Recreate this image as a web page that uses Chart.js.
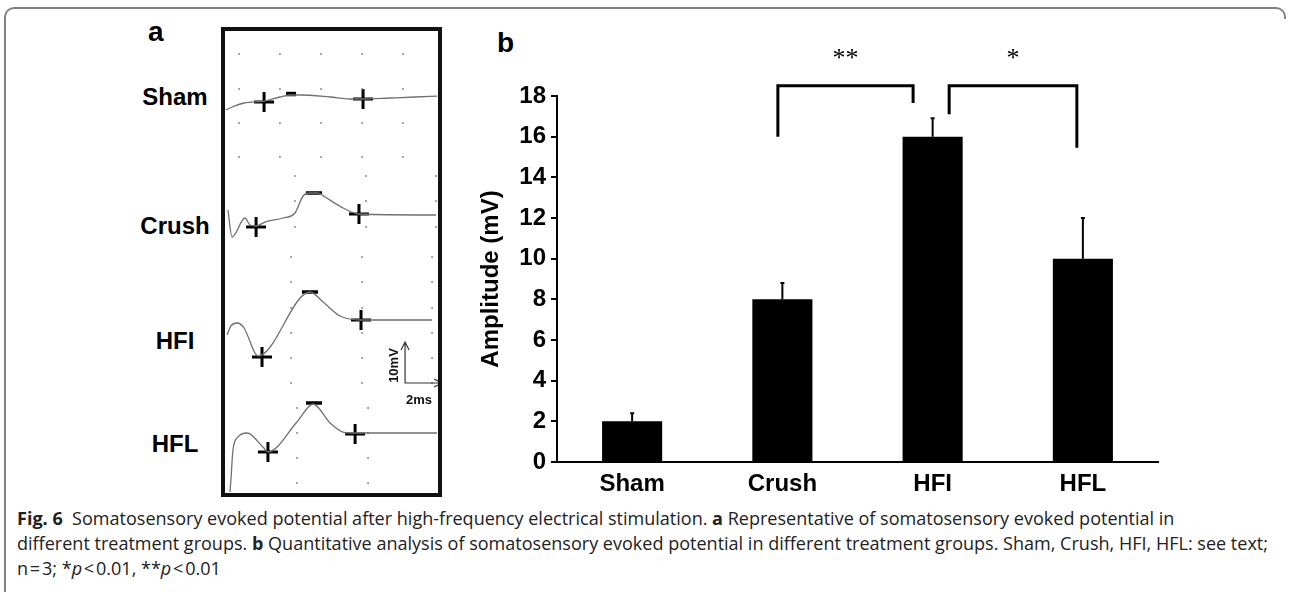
<!DOCTYPE html>
<html>
<head>
<meta charset="utf-8">
<script src="https://cdn.jsdelivr.net/npm/chart.js@4.4.1/dist/chart.umd.min.js"></script>
<style>
  body { margin: 0; background: #fff; width: 1290px; height: 592px; overflow: hidden; position: relative; font-family: "Liberation Sans", Arial, sans-serif; color: #000; }
  .frame { position: absolute; left: 4px; top: 7px; width: 1270px; height: 640px; border-top: 2px solid #808080; border-left: 2px solid #808080; border-top-left-radius: 10px; }
  .corner { position: absolute; left: 1272px; top: 7px; width: 12px; height: 10px; border-top: 2px solid #808080; border-right: 2px solid #808080; border-top-right-radius: 10px; }
  .panel { position: absolute; font-weight: bold; font-size: 28px; line-height: 28px; }
  .trace-label { position: absolute; left: 125px; width: 100px; text-align: center; font-weight: bold; font-size: 24px; line-height: 24px; }
  .box { position: absolute; left: 221px; top: 27px; width: 213px; height: 462px; border: 4px solid #111; }
  #traces { position: absolute; left: 225px; top: 31px; }
  #bars { position: absolute; left: 470px; top: 20px; }
  .cap { position: absolute; left: 17px; white-space: nowrap; font-family: "Open Sans", "Noto Sans", sans-serif; font-size: 17.5px; line-height: 24px; color: #222; transform-origin: 0 0; }
</style>
</head>
<body>
<div class="frame"></div>
<div class="corner"></div>

<div class="panel" style="left:148px; top:18px;">a</div>
<div class="panel" style="left:497px; top:29px;">b</div>

<div class="trace-label" style="top:85px;">Sham</div>
<div class="trace-label" style="top:214px;">Crush</div>
<div class="trace-label" style="top:329px;">HFI</div>
<div class="trace-label" style="top:432px;">HFL</div>

<canvas id="traces" width="213" height="466"></canvas>
<div class="box"></div>
<canvas id="bars" width="720" height="480"></canvas>

<div class="cap" style="top:506px;"><b>Fig. 6</b>&nbsp; Somatosensory evoked potential after high-frequency electrical stimulation. <b>a</b> Representative of somatosensory evoked potential in</div>
<div class="cap" id="capRef" style="top:531px;">different treatment groups. <b>b</b> Quantitative analysis of somatosensory evoked potential in different treatment groups. Sham, Crush, HFI, HFL: see text;</div>
<div class="cap" style="top:556px;">n&#8202;=&#8202;3; *<i>p</i>&#8202;&lt;&#8202;0.01, **<i>p</i>&#8202;&lt;&#8202;0.01</div>

<script>
// ---- panel a: evoked potential traces (time in ms, amplitude in mV relative to baseline)
const shamTime = [0.05, 0.38, 1.03, 2.11, 2.97, 3.57, 4.05, 5.68, 6.76, 7.46, 8.92, 10.27, 11.46];
const shamAmp  = [-3.17, -2.44, -1.46, -0.98, 0, 0.49, 0.49, 0, -0.49, -0.49, -0.24, 0, 0.24];
const crushTime = [0.16, 0.38, 1.08, 1.35, 1.68, 2.16, 3.14, 3.78, 4.22, 4.59, 5.03, 5.41, 6.38, 7.24, 11.41];
const crushAmp  = [1.22, -5.37, -0.73, -2.44, -2.68, -1.71, -0.73, 0.49, 4.63, 5.37, 5.37, 4.39, 1.71, 0.24, 0];
const hfiTime = [0.11, 0.32, 0.65, 1.03, 1.62, 1.78, 4.59, 5.30, 6.22, 7.35, 11.19];
const hfiAmp  = [-3.66, -1.46, -0.73, -1.95, -8.05, -8.78, 6.83, 4.39, 0.98, 0, 0];
const hflTime = [0.27, 0.32, 0.43, 0.70, 1.19, 2.05, 2.32, 3.89, 4.76, 5.68, 6.38, 7.03, 11.46];
const hflAmp  = [-14.39, -11.46, -4.15, -0.98, 0, -3.41, -4.63, 2.68, 7.07, 2.44, 0.24, 0, 0];

// + / - peak markers for each trace
const plusTime  = [[2.11, 7.46], [1.68, 7.24], [2.00, 7.35], [2.32, 7.03]];
const plusAmp   = [[-1.22, -0.49], [-2.93, 0.24], [-9.02, 0], [-4.63, -0.24]];
const minusTime = [3.57, 4.81, 4.59, 4.81];
const minusAmp  = [0.73, 5.37, 6.83, 7.32];

// dotted reference grid around each trace
const dotTime = [[0.76, 2.97, 5.19, 7.41, 9.62], [3.78, 7.62, 11.41], [3.57, 7.41, 11.19], [3.89, 7.73]];
const dotAmp  = [[10.49, 1.95, -6.34, -14.63], [9.51, 3.41, -2.93], [15.37, 9.27, 2.93, -3.17, -9.27, -15.37], [6.10, 0, -6.10, -12.20]];

// ---- panel b: bar chart
const groups = ['Sham', 'Crush', 'HFI', 'HFL'];
const amplitude = [2, 8, 16, 10];
const amplitudeErr = [0.4, 0.8, 0.9, 2.0];
const yTicks = [0, 2, 4, 6, 8, 10, 12, 14, 16, 18];
const sigPairs = [[1, 2], [2, 3]];
const sigLabels = ['**', '*'];
const sigLegs = [[16.0, 17.65], [17.1, 15.45]];
const sigTop = [18.5, 18.5];

// stacking of the traces in panel a and the scale bar position (layout only)
const traceOffset = [97.56, 68.78, 43.17, 15.61];
const scaleBarAt = [9.73, 27.8];

const traceSets = [[shamTime, shamAmp], [crushTime, crushAmp], [hfiTime, hfiAmp], [hflTime, hflAmp]];

const traceData = traceSets.map(function(s, k) {
  return {
    data: s[0].map(function(t, i) { return { x: t, y: s[1][i] + traceOffset[k] }; }),
    showLine: true,
    borderColor: '#707070',
    borderWidth: 1.3,
    pointRadius: 0,
    cubicInterpolationMode: 'monotone'
  };
});

const dots = [];
dotTime.forEach(function(cols, k) {
  cols.forEach(function(t) {
    dotAmp[k].forEach(function(a) { dots.push({ x: t, y: a + traceOffset[k] }); });
  });
});

const plusPts = [];
plusTime.forEach(function(ts, k) {
  ts.forEach(function(t, i) { plusPts.push({ x: t, y: plusAmp[k][i] + traceOffset[k] }); });
});
const minusPts = minusTime.map(function(t, k) { return { x: t, y: minusAmp[k] + traceOffset[k] }; });

const scaleBar = {
  id: 'scaleBar',
  afterDatasetsDraw(chart) {
    const { ctx, scales: { x, y } } = chart;
    const x0 = x.getPixelForValue(scaleBarAt[0]);
    const y0 = y.getPixelForValue(scaleBarAt[1]);
    const x1 = x.getPixelForValue(scaleBarAt[0] + 2);
    const y1 = y.getPixelForValue(scaleBarAt[1] + 10);
    ctx.save();
    ctx.strokeStyle = '#333';
    ctx.lineWidth = 1.2;
    ctx.beginPath();
    ctx.moveTo(x0, y1); ctx.lineTo(x0, y0); ctx.lineTo(x1, y0);
    ctx.moveTo(x0 - 4, y1 + 8); ctx.lineTo(x0, y1); ctx.lineTo(x0 + 4, y1 + 8);
    ctx.moveTo(x1 - 8, y0 - 4); ctx.lineTo(x1, y0); ctx.lineTo(x1 - 8, y0 + 4);
    ctx.stroke();
    ctx.fillStyle = '#111';
    ctx.font = 'bold 13px "Liberation Sans", Arial';
    ctx.textAlign = 'center';
    ctx.textBaseline = 'middle';
    ctx.fillText('2ms', x0 + 14, y0 + 17);
    ctx.translate(x0 - 11, (y0 + y1) / 2 + 3);
    ctx.rotate(-Math.PI / 2);
    ctx.fillText('10mV', 0, 0);
    ctx.restore();
  }
};

new Chart(document.getElementById('traces'), {
  type: 'scatter',
  data: {
    datasets: traceData.concat([
      { data: dots, pointRadius: 1, pointBackgroundColor: '#8a8a8a', pointBorderWidth: 0 },
      { data: plusPts, pointStyle: 'cross', pointRadius: 10, pointBorderColor: '#000', pointBorderWidth: 3 },
      { data: minusPts, pointStyle: 'line', pointRadius: [5, 8, 8, 8], pointBorderColor: '#000', pointBorderWidth: [4.5, 3.5, 3.5, 3.5] }
    ])
  },
  options: {
    responsive: false,
    animation: false,
    events: [],
    layout: { padding: 0, autoPadding: false },
    plugins: { legend: { display: false }, tooltip: { enabled: false } },
    scales: {
      x: { type: 'linear', min: 0, max: 11.51, display: false },
      y: { type: 'linear', min: 0, max: 113.66, display: false }
    }
  },
  plugins: [scaleBar]
});

const boldFont = { family: '"Liberation Sans", Arial', size: 24, weight: 'bold' };

const extras = {
  id: 'extras',
  afterDatasetsDraw(chart) {
    const ctx = chart.ctx;
    const x = chart.scales.x, y = chart.scales.y;
    const bars = chart.getDatasetMeta(0).data;
    ctx.save();
    ctx.strokeStyle = '#000';
    ctx.fillStyle = '#000';

    // upper error whiskers
    ctx.lineWidth = 2;
    bars.forEach(function(bar, i) {
      const top = y.getPixelForValue(amplitude[i] + amplitudeErr[i]);
      ctx.beginPath();
      ctx.moveTo(bar.x, bar.y);
      ctx.lineTo(bar.x, top);
      ctx.moveTo(bar.x - 2, top);
      ctx.lineTo(bar.x + 2, top);
      ctx.stroke();
    });

    // significance brackets
    const catW = x.width / groups.length;
    const legShift = [[-0.03, -0.13], [0.11, -0.04]];
    ctx.lineWidth = 3;
    ctx.lineJoin = 'miter';
    sigPairs.forEach(function(p, k) {
      const xa = x.getPixelForValue(p[0]) + legShift[k][0] * catW;
      const xb = x.getPixelForValue(p[1]) + legShift[k][1] * catW;
      const yt = y.getPixelForValue(sigTop[k]);
      ctx.beginPath();
      ctx.moveTo(xa, y.getPixelForValue(sigLegs[k][0]));
      ctx.lineTo(xa, yt);
      ctx.lineTo(xb, yt);
      ctx.lineTo(xb, y.getPixelForValue(sigLegs[k][1]));
      ctx.stroke();
      ctx.font = '26px "Liberation Serif", "Times New Roman", serif';
      ctx.textAlign = 'center';
      ctx.textBaseline = 'alphabetic';
      ctx.fillText(sigLabels[k], (xa + xb) / 2, yt - 20);
    });
    ctx.restore();
  }
};

new Chart(document.getElementById('bars'), {
  type: 'bar',
  data: {
    labels: groups,
    datasets: [{
      data: amplitude,
      backgroundColor: '#000',
      borderWidth: 0,
      barPercentage: 0.8,
      categoryPercentage: 0.5
    }]
  },
  options: {
    responsive: false,
    animation: false,
    events: [],
    layout: { padding: { left: 0, top: 76, right: 32, bottom: 0 } },
    plugins: { legend: { display: false }, tooltip: { enabled: false } },
    scales: {
      x: {
        grid: { display: false, drawTicks: false },
        border: { display: true, color: '#000', width: 2 },
        ticks: { color: '#000', font: boldFont, padding: 8 },
        afterFit: function(s) { s.height = 38; }
      },
      y: {
        min: 0,
        max: 18,
        afterBuildTicks: function(s) { s.ticks = yTicks.map(function(v) { return { value: v }; }); },
        ticks: { color: '#000', font: boldFont, padding: 5 },
        grid: { drawOnChartArea: false, drawTicks: true, tickLength: 6, color: '#000', lineWidth: 2 },
        border: { display: true, color: '#000', width: 2 },
        title: { display: true, text: 'Amplitude (mV)', color: '#000', font: boldFont, padding: { top: 7, bottom: 0 } },
        afterFit: function(s) { s.width = 87; }
      }
    }
  },
  plugins: [extras]
});

// condense the caption: the second line runs to the right margin, the others share its squeeze
const squeeze = 1251 / document.getElementById('capRef').getBoundingClientRect().width;
document.querySelectorAll('.cap').forEach(function(el) {
  el.style.transform = 'scaleX(' + squeeze + ')';
});
</script>
</body>
</html>
